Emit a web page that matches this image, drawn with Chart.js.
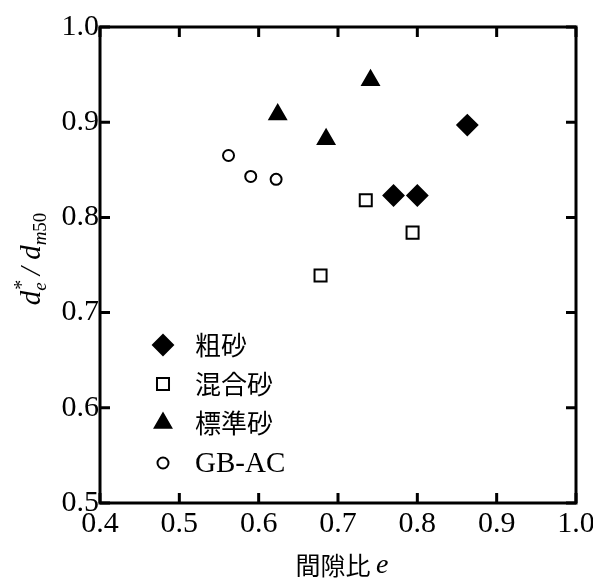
<!DOCTYPE html>
<html>
<head>
<meta charset="utf-8">
<script src="https://cdn.jsdelivr.net/npm/chart.js@4/dist/chart.umd.min.js"></script>
<style>
  html, body { margin: 0; padding: 0; background: #fff; }
  #wrap { width: 593px; height: 578px; position: relative; }
</style>
</head>
<body>
<div id="wrap"><canvas id="c"></canvas></div>
<script>
// Data: void ratio e vs d_e*/d_m50
const coarseX   = [0.770, 0.800, 0.863];
const coarseY   = [0.823, 0.823, 0.897];
const mixedX    = [0.678, 0.735, 0.794];
const mixedY    = [0.739, 0.818, 0.784];
const standardX = [0.624, 0.685, 0.741];
const standardY = [0.908, 0.882, 0.944];
const gbacX     = [0.562, 0.590, 0.622];
const gbacY     = [0.865, 0.843, 0.840];

const seriesLabels = ['粗砂', '混合砂', '標準砂', 'GB-AC'];
const xTicks = [0.4, 0.5, 0.6, 0.7, 0.8, 0.9, 1.0];
const yTicks = [0.5, 0.6, 0.7, 0.8, 0.9, 1.0];

const SERIF = "'Liberation Serif', 'Times New Roman', serif";
const CJK = "'Noto Sans CJK JP', sans-serif";

const pts = (xs, ys) => xs.map((x, i) => ({ x, y: ys[i] }));

const styles = [
  { pointStyle: 'rectRot',  radius: 10,  fill: true },
  { pointStyle: 'rect',     radius: 8.5, fill: false },
  { pointStyle: 'triangle', radius: 9.5, fill: true },
  { pointStyle: 'circle',   radius: 5.5, fill: false },
];

const datasets = [
  pts(coarseX, coarseY),
  pts(mixedX, mixedY),
  pts(standardX, standardY),
  pts(gbacX, gbacY),
].map((data, i) => ({
  label: seriesLabels[i],
  data,
  pointStyle: styles[i].pointStyle,
  pointRadius: styles[i].radius,
  pointHoverRadius: styles[i].radius,
  pointBorderWidth: 2,
  pointBorderColor: '#000',
  pointBackgroundColor: styles[i].fill ? '#000' : '#fff',
  showLine: false,
}));

// frame, inward ticks on all four sides, axis titles, legend
const decor = {
  id: 'decor',
  afterDraw(chart) {
    const { ctx, chartArea: a, scales } = chart;
    const tl = 10;
    ctx.save();
    ctx.strokeStyle = '#000';
    ctx.lineWidth = 3;
    ctx.strokeRect(a.left, a.top, a.right - a.left, a.bottom - a.top);
    ctx.beginPath();
    xTicks.forEach(v => {
      const x = scales.x.getPixelForValue(v);
      ctx.moveTo(x, a.bottom); ctx.lineTo(x, a.bottom - tl);
      ctx.moveTo(x, a.top); ctx.lineTo(x, a.top + tl);
    });
    yTicks.forEach(v => {
      const y = scales.y.getPixelForValue(v);
      ctx.moveTo(a.left, y); ctx.lineTo(a.left + tl, y);
      ctx.moveTo(a.right, y); ctx.lineTo(a.right - tl, y);
    });
    ctx.stroke();

    ctx.fillStyle = '#000';

    // x title: 間隙比 e
    const cx = (a.left + a.right) / 2 + 4;
    ctx.font = '25px ' + CJK;
    const w1 = ctx.measureText('間隙比 ').width;
    ctx.font = 'italic 28px ' + SERIF;
    const w2 = ctx.measureText('e').width;
    let x0 = cx - (w1 + w2) / 2;
    ctx.textAlign = 'left';
    ctx.textBaseline = 'middle';
    ctx.font = '25px ' + CJK;
    ctx.fillText('間隙比 ', x0, 565);
    ctx.textBaseline = 'alphabetic';
    ctx.font = 'italic 28px ' + SERIF;
    ctx.fillText('e', x0 + w1, 573);

    // y title: d_e* / d_m50, rotated
    ctx.save();
    ctx.translate(40, 259);
    ctx.rotate(-Math.PI / 2);
    const big = 'italic 29px ' + SERIF;
    const sub = 'italic 19px ' + SERIF;
    const subUp = '19px ' + SERIF;
    const parts = [
      { t: 'd', f: big, dy: 0 },
      { t: 'e', f: sub, dy: 6, star: true },
      { t: ' / ', f: big, dy: 0 },
      { t: 'd', f: big, dy: 0 },
      { t: 'm', f: sub, dy: 6 },
      { t: '50', f: subUp, dy: 6 },
    ];
    let total = 0;
    parts.forEach(p => { ctx.font = p.f; p.w = ctx.measureText(p.t).width; total += p.w; });
    let px = -total / 2;
    parts.forEach(p => {
      ctx.font = p.f;
      ctx.fillText(p.t, px, p.dy);
      if (p.star) {
        ctx.font = '20px ' + SERIF;
        ctx.fillText('*', px + 1, -12);
      }
      px += p.w;
    });
    ctx.restore();

    // legend inside plot area
    const rows = [345, 384, 423, 463];
    chart.data.datasets.forEach((ds, i) => {
      ctx.lineWidth = 2;
      ctx.strokeStyle = '#000';
      ctx.fillStyle = ds.pointBackgroundColor;
      Chart.helpers.drawPoint(ctx, { pointStyle: ds.pointStyle, radius: ds.pointRadius, rotation: 0, borderWidth: 2 }, 163, rows[i]);
      ctx.fillStyle = '#000';
      ctx.textBaseline = 'middle';
      ctx.font = i === 3 ? '29px ' + SERIF : '26px ' + CJK;
      ctx.fillText(ds.label, 195, rows[i] + (i === 3 ? 1 : 0));
    });
    ctx.restore();
  },
};

new Chart(document.getElementById('c'), {
  type: 'scatter',
  data: { datasets },
  options: {
    responsive: true,
    maintainAspectRatio: false,
    animation: false,
    layout: { padding: { top: 27, right: 17, left: 0, bottom: 0 } },
    plugins: { legend: { display: false }, tooltip: { enabled: false } },
    scales: {
      x: {
        type: 'linear', min: 0.4, max: 1.0,
        grid: { display: false, drawTicks: false },
        border: { display: false },
        afterBuildTicks: s => { s.ticks = xTicks.map(v => ({ value: v })); },
        afterFit: s => { s.height = 75; s.paddingLeft = 0; s.paddingRight = 0; },
        ticks: {
          color: '#000', padding: 3, maxRotation: 0,
          font: { family: SERIF, size: 30 },
          callback: v => v.toFixed(1),
        },
      },
      y: {
        type: 'linear', min: 0.5, max: 1.0,
        grid: { display: false, drawTicks: false },
        border: { display: false },
        afterBuildTicks: s => { s.ticks = yTicks.map(v => ({ value: v })); },
        afterFit: s => { s.width = 100; s.paddingTop = 0; s.paddingBottom = 0; },
        ticks: {
          color: '#000', padding: 1,
          font: { family: SERIF, size: 30 },
          callback: v => v.toFixed(1),
        },
      },
    },
  },
  plugins: [decor],
});
</script>
</body>
</html>
